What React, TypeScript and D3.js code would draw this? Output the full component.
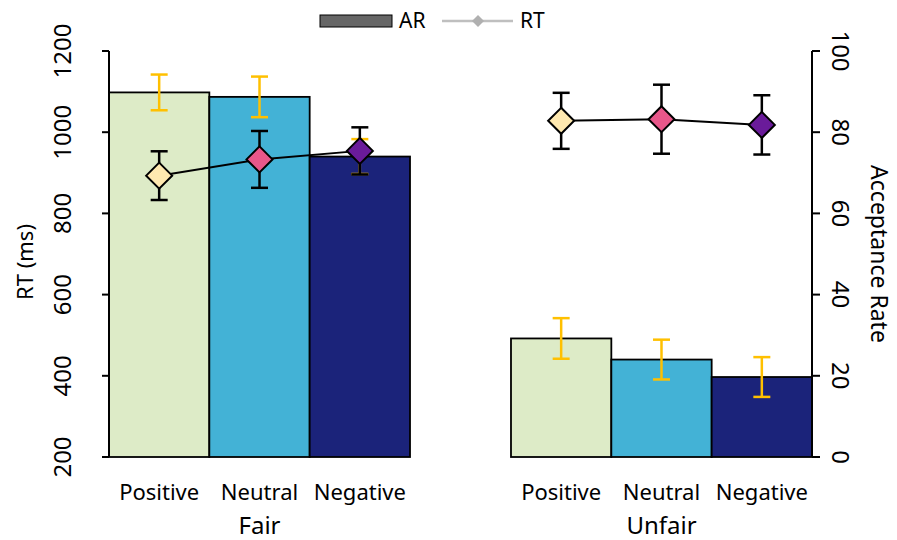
import React from 'react';
import * as d3 from 'd3';

// categories
const groups = ['Fair', 'Unfair'];
const conditions = ['Positive', 'Neutral', 'Negative'];

// acceptance rate (bars, right axis) and its error
const arFair = [89.8, 88.7, 74.0];
const arUnfair = [29.2, 24.0, 19.7];
const arErrFair = [4.4, 5.0, 4.3];
const arErrUnfair = [5.0, 4.9, 4.9];

// reaction time (diamonds, left axis) and its error
const rtFair = [893, 933, 954];
const rtUnfair = [1028, 1032, 1018];
const rtErrFair = [60, 70, 58];
const rtErrUnfair = [69, 85, 73];

const rtTicks = [200, 400, 600, 800, 1000, 1200];
const arTicks = [0, 20, 40, 60, 80, 100];

const barColors = ['#DDEBC7', '#43B2D6', '#1B237A'];
const dotColors = ['#FFE9B0', '#E8578A', '#6A1B9A'];
const errYellow = '#FFC000';
const font = '"Noto Sans", "Open Sans", sans-serif';

const W = 897, H = 540;
const left = 109, right = 812, top = 51, bottom = 457;

export default function App() {
  const xGroup = d3.scaleBand().domain(groups).range([left, right]).paddingInner(0.2512).paddingOuter(0);
  const xCond = d3.scaleBand().domain(conditions).range([0, xGroup.bandwidth()]).padding(0);
  const yRT = d3.scaleLinear().domain([200, 1200]).range([bottom, top]);
  const yAR = d3.scaleLinear().domain([0, 100]).range([bottom, top]);

  const data = groups.map((g, gi) => ({
    group: g,
    ar: gi === 0 ? arFair : arUnfair,
    arErr: gi === 0 ? arErrFair : arErrUnfair,
    rt: gi === 0 ? rtFair : rtUnfair,
    rtErr: gi === 0 ? rtErrFair : rtErrUnfair,
  }));

  const cx = (g: string, c: string) => (xGroup(g) as number) + (xCond(c) as number) + xCond.bandwidth() / 2;
  const line = d3.line<[number, number]>().x(d => d[0]).y(d => d[1]);
  const diamond = (x: number, y: number, r: number) => `M${x},${y - r}L${x + r},${y}L${x},${y + r}L${x - r},${y}Z`;
  const cap = 8.5;

  return (
    <svg width={W} height={H} style={{ position: 'absolute', left: 0, top: 0, background: '#fff' }} fontFamily={font}>
      {/* bars */}
      {data.map(d => conditions.map((c, i) => (
        <rect key={d.group + c} x={(xGroup(d.group) as number) + (xCond(c) as number)} y={yAR(d.ar[i])}
          width={xCond.bandwidth()} height={bottom - yAR(d.ar[i])}
          fill={barColors[i]} stroke="#000" strokeWidth={1.8} />
      )))}
      {/* AR error bars */}
      {data.map(d => conditions.map((c, i) => {
        const x = cx(d.group, c);
        const y1 = yAR(d.ar[i] + d.arErr[i]), y2 = yAR(d.ar[i] - d.arErr[i]);
        return (
          <g key={'ae' + d.group + c} stroke={errYellow} strokeWidth={2.5}>
            <line x1={x} x2={x} y1={y1} y2={y2} />
            <line x1={x - cap} x2={x + cap} y1={y1} y2={y1} />
            <line x1={x - cap} x2={x + cap} y1={y2} y2={y2} />
          </g>
        );
      }))}
      {/* RT lines */}
      {data.map(d => (
        <path key={'l' + d.group} d={line(conditions.map((c, i) => [cx(d.group, c), yRT(d.rt[i])])) as string}
          fill="none" stroke="#000" strokeWidth={2} />
      ))}
      {/* RT error bars */}
      {data.map(d => conditions.map((c, i) => {
        const x = cx(d.group, c);
        const y1 = yRT(d.rt[i] + d.rtErr[i]), y2 = yRT(d.rt[i] - d.rtErr[i]);
        return (
          <g key={'re' + d.group + c} stroke="#000" strokeWidth={2.5}>
            <line x1={x} x2={x} y1={y1} y2={y2} />
            <line x1={x - cap} x2={x + cap} y1={y1} y2={y1} />
            <line x1={x - cap} x2={x + cap} y1={y2} y2={y2} />
          </g>
        );
      }))}
      {/* RT markers */}
      {data.map(d => conditions.map((c, i) => (
        <path key={'m' + d.group + c} d={diamond(cx(d.group, c), yRT(d.rt[i]), 13)}
          fill={dotColors[i]} stroke="#000" strokeWidth={2} />
      )))}

      {/* left axis */}
      <line x1={left} x2={left} y1={top} y2={bottom} stroke="#000" strokeWidth={2} />
      {rtTicks.map(t => (
        <g key={'lt' + t}>
          <line x1={left - 7} x2={left} y1={yRT(t)} y2={yRT(t)} stroke="#000" strokeWidth={2} />
          <text transform={`translate(61,${yRT(t)}) rotate(-90)`} textAnchor="middle" dominantBaseline="central"
            fontSize={24} fill="#000">{t}</text>
        </g>
      ))}
      <text transform={`translate(24,${(top + bottom) / 2 + 8}) rotate(-90)`} textAnchor="middle"
        dominantBaseline="central" fontSize={22}>RT (ms)</text>

      {/* right axis */}
      <line x1={right} x2={right} y1={top} y2={bottom} stroke="#000" strokeWidth={2} />
      {arTicks.map(t => (
        <g key={'rt' + t}>
          <line x1={right} x2={right + 8} y1={yAR(t)} y2={yAR(t)} stroke="#000" strokeWidth={2} />
          <text transform={`translate(841,${yAR(t)}) rotate(90)`} textAnchor="middle" dominantBaseline="central"
            fontSize={24} fill="#000">{t}</text>
        </g>
      ))}
      <text transform={`translate(880,${(top + bottom) / 2}) rotate(90)`} textAnchor="middle"
        dominantBaseline="central" fontSize={23}>Acceptance Rate</text>

      {/* category labels */}
      {groups.map(g => (
        <g key={'gl' + g}>
          {conditions.map(c => (
            <text key={c} x={cx(g, c)} y={500} textAnchor="middle" fontSize={22}>{c}</text>
          ))}
          <text x={(xGroup(g) as number) + xGroup.bandwidth() / 2} y={534} textAnchor="middle" fontSize={24}>{g}</text>
        </g>
      ))}

      {/* legend */}
      <rect x={320} y={15} width={72} height={12} fill="#666" stroke="#000" strokeWidth={1} />
      <text x={399} y={28} fontSize={21}>AR</text>
      <line x1={442} x2={513} y1={21} y2={21} stroke="#BFBFBF" strokeWidth={2.5} />
      <path d={diamond(478, 21, 6)} fill="#B0B0B0" />
      <text x={520} y={28} fontSize={21}>RT</text>
    </svg>
  );
}
